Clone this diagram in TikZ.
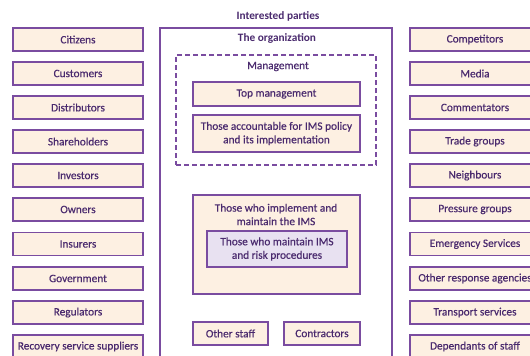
\documentclass[tikz,border=0pt]{standalone}
\usepackage{fontspec}
\setmainfont{Carlito}[FakeBold=0.5]
\newfontfamily\ttlfont{Carlito}[Scale=1.0]
\usetikzlibrary{shadows}
\definecolor{pborder}{HTML}{7A4CA0}
\definecolor{ptext}{HTML}{4A2A6E}
\definecolor{pfill}{HTML}{FDF0E2}
\definecolor{lfill}{HTML}{E8E1F1}
\tikzset{
  party/.style={draw=pborder, line width=1.1pt, fill=pfill, text=ptext,
    minimum width=130pt, minimum height=23pt, inner sep=0pt, font=\fontsize{11.3}{13.5}\selectfont,
    drop shadow={opacity=0.25, shadow xshift=0.8pt, shadow yshift=-0.8pt}},
  orgbox/.style={draw=pborder, line width=1.1pt, fill=pfill, text=ptext, inner sep=0pt,
    font=\fontsize{11.3}{13.5}\selectfont, align=center,
    drop shadow={opacity=0.25, shadow xshift=0.8pt, shadow yshift=-0.8pt}},
  lbl/.style={text=ptext, font=\fontsize{11.3}{13.5}\selectfont, inner sep=0pt},
  ttl/.style={text=ptext, font=\ttlfont\bfseries\fontsize{11.3}{13}\selectfont, inner sep=0pt}
}
\begin{document}
\begin{tikzpicture}[x=1pt,y=-1pt]
\useasboundingbox[fill=white] (0,0) rectangle (530,356);
\begin{scope}
\clip (0,0) rectangle (530,356);
% organization frame
\node[draw=pborder, line width=1.1pt, minimum width=232pt, minimum height=345pt, inner sep=0pt] (org) at (276,200.5) {};
\node[ttl] (title) at (278,16) {Interested parties};
\node[ttl] (orgt) at (277,38.5) {The organization};
% management
\node[draw=pborder, line width=1.1pt, dashed, dash pattern=on 5pt off 3pt, minimum width=200pt, minimum height=110pt, inner sep=0pt] (mgmt) at (276,110) {};
\node[lbl] (mgmtt) at (278,66.5) {Management};
\node[orgbox, minimum width=167pt, minimum height=24pt] (top) at (276.5,94) {Top management};
\node[orgbox, minimum width=167pt, minimum height=37pt] (acc) at (276.5,133.5) {Those accountable for IMS policy\\and its implementation};
% implement
\node[orgbox, minimum width=167pt, minimum height=99pt] (impl) at (276.5,244.5) {};
\node[lbl, align=center] (implt) at (276,214.5) {Those who implement and\\maintain the IMS};
\node[orgbox, fill=lfill, minimum width=140pt, minimum height=36pt] (maint) at (277,249) {Those who maintain IMS\\and risk procedures};
\node[orgbox, minimum width=75pt, minimum height=23pt] (other) at (230.5,333.5) {Other staff};
\node[orgbox, minimum width=76pt, minimum height=23pt] (contr) at (322,333.5) {Contractors};
% left parties
\node[party] (l1) at (78,39.5) {Citizens};
\node[party] (l2) at (78,73.5) {Customers};
\node[party] (l3) at (78,107.5) {Distributors};
\node[party] (l4) at (78,141.5) {Shareholders};
\node[party] (l5) at (78,175.5) {Investors};
\node[party] (l6) at (78,209.5) {Owners};
\node[party] (l7) at (78,244) {Insurers};
\node[party] (l8) at (78,278.5) {Government};
\node[party] (l9) at (78,312.5) {Regulators};
\node[party] (l10) at (78,346.5) {Recovery service suppliers};
% right parties
\node[party] (r1) at (475,39.5) {Competitors};
\node[party] (r2) at (475,73.5) {Media};
\node[party] (r3) at (475,107.5) {Commentators};
\node[party] (r4) at (475,141.5) {Trade groups};
\node[party] (r5) at (475,175.5) {Neighbours};
\node[party] (r6) at (475,209.5) {Pressure groups};
\node[party] (r7) at (475,244) {Emergency Services};
\node[party] (r8) at (475,278.5) {Other response agencies};
\node[party] (r9) at (475,312.5) {Transport services};
\node[party] (r10) at (475,346.5) {Dependants of staff};
\end{scope}
\end{tikzpicture}
\end{document}
